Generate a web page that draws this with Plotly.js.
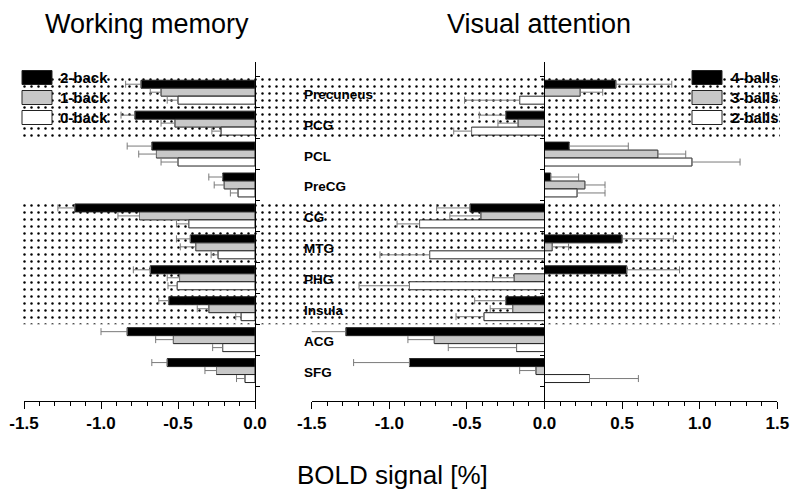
<!DOCTYPE html>
<html>
<head>
<meta charset="utf-8">
<script src="https://cdn.plot.ly/plotly-3.0.1.min.js"></script>
<style>html,body{margin:0;padding:0;background:#fff;}#chart{width:800px;height:499px;}</style>
</head>
<body>
<div id="chart"></div>
<script>
// ---------- data ----------
const categories = ['Precuneus','PCG','PCL','PreCG','CG','MTG','PHG','Insula','ACG','SFG'];
const shadedGroups = [['Precuneus','PCG'], ['CG','MTG','PHG','Insula']];

const wmSeries = ['2-back','1-back','0-back'];
const wm2back    = [-0.74,-0.78,-0.67,-0.21,-1.17,-0.42,-0.68,-0.56,-0.83,-0.57];
const wm2backErr = [ 0.10, 0.09, 0.16, 0.09, 0.11, 0.09, 0.11, 0.065,0.17, 0.10];
const wm1back    = [-0.61,-0.52,-0.64,-0.20,-0.75,-0.385,-0.49,-0.30,-0.53,-0.25];
const wm1backErr = [ 0.07, 0.09, 0.115,0.065,0.14, 0.10, 0.08, 0.075,0.115,0.075];
const wm0back    = [-0.50,-0.22,-0.50,-0.11,-0.43,-0.24,-0.505,-0.09,-0.21,-0.065];
const wm0backErr = [ 0.07, 0.06, 0.11, 0.05, 0.08, 0.045,0.06, 0.035,0.065,0.055];

const vaSeries = ['4-balls','3-balls','2-balls'];
const va4balls    = [ 0.46,-0.25, 0.16, 0.04,-0.48, 0.50, 0.53,-0.25,-1.28,-0.87];
const va4ballsErr = [ 0.36, 0.17, 0.38, 0.18, 0.215,0.33, 0.34, 0.20, 0.23, 0.36];
const va3balls    = [ 0.23,-0.17, 0.73, 0.26,-0.41, 0.05,-0.195,-0.205,-0.71,-0.055];
const va3ballsErr = [ 0.145,0.13, 0.18, 0.13, 0.20, 0.105,0.14, 0.145,0.17, 0.105];
const va2balls    = [-0.16,-0.47, 0.95, 0.21,-0.805,-0.74,-0.87,-0.39,-0.18, 0.29];
const va2ballsErr = [ 0.355,0.115,0.31, 0.18, 0.145,0.32, 0.325,0.18, 0.44, 0.315];

const wmTickVals = [-1.5,-1.0,-0.5,0.0];
const wmTickText = ['-1.5','-1.0','-0.5','0.0'];
const vaTickVals = [-1.5,-1.0,-0.5,0.0,0.5,1.0,1.5];
const vaTickText = ['-1.5','-1.0','-0.5','0.0','0.5','1.0','1.5'];

const titleLeft = 'Working memory';
const titleRight = 'Visual attention';
const xTitle = 'BOLD signal [%]';

// ---------- styles / layout ----------
const W = 800, H = 499;
const px = v => v / W;
const py = v => 1 - v / H;
const seriesColors = ['#000000', '#c8c8c8', '#ffffff'];
const FONT = 'Liberation Sans, Arial, sans-serif';
const yIdx = categories.map((c, i) => i);
const yRange = [9.974, -0.976];
const yDomain = [py(400.7), py(62)];

function barTrace(name, vals, errs, color, xa, ya) {
  return {
    type: 'bar', orientation: 'h', name: name,
    x: vals, y: yIdx, xaxis: xa, yaxis: ya,
    marker: {color: color, line: {color: '#222', width: 1}},
    error_x: {
      type: 'data', symmetric: false,
      array: vals.map((v, i) => v > 0 ? errs[i] : 0),
      arrayminus: vals.map((v, i) => v < 0 ? errs[i] : 0),
      color: '#7a7a7a', thickness: 1, width: 3.5
    },
    hoverinfo: 'skip', showlegend: false
  };
}

// background dotted regions (on full-width axis x/y, drawn first)
const bgY = shadedGroups.map(g => (categories.indexOf(g[0]) + categories.indexOf(g[g.length - 1])) / 2);
const bgW = shadedGroups.map(g => g.length);
const bgTrace = {
  type: 'bar', orientation: 'h', xaxis: 'x', yaxis: 'y',
  y: bgY, width: bgW,
  x: shadedGroups.map(() => px(780) - px(20)),
  base: shadedGroups.map(() => px(20)),
  marker: {color: 'white', line: {width: 0},
    pattern: {shape: '.', fgcolor: 'black', bgcolor: 'white', size: 7, solidity: 0.1}},
  hoverinfo: 'skip', showlegend: false
};

const traces = [
  bgTrace,
  barTrace(wmSeries[0], wm2back, wm2backErr, seriesColors[0], 'x2', 'y2'),
  barTrace(wmSeries[1], wm1back, wm1backErr, seriesColors[1], 'x2', 'y2'),
  barTrace(wmSeries[2], wm0back, wm0backErr, seriesColors[2], 'x2', 'y2'),
  barTrace(vaSeries[0], va4balls, va4ballsErr, seriesColors[0], 'x3', 'y3'),
  barTrace(vaSeries[1], va3balls, va3ballsErr, seriesColors[1], 'x3', 'y3'),
  barTrace(vaSeries[2], va2balls, va2ballsErr, seriesColors[2], 'x3', 'y3')
];

const boundaryTicks = categories.map((c, i) => i - 0.5).concat([categories.length - 0.5]);
const tickFont = {family: FONT, size: 17, color: '#000', weight: 'bold'};

function xAxis(domain, range, tv, tt) {
  return {
    domain: domain, range: range, showgrid: false, zeroline: false,
    showline: true, linecolor: '#000', linewidth: 1,
    ticks: 'outside', ticklen: 7, tickwidth: 1, tickcolor: '#000',
    tickvals: tv, ticktext: tt, tickfont: tickFont,
    minor: {ticks: 'outside', dtick: 0.1, tick0: 0, ticklen: 4, tickwidth: 1, tickcolor: '#000', showgrid: false},
    fixedrange: true
  };
}
function yTickAxis(extra) {
  return Object.assign({
    domain: yDomain, range: yRange, showgrid: false, zeroline: false,
    tickvals: boundaryTicks, showticklabels: false,
    ticklen: 4, tickwidth: 1, tickcolor: '#000', fixedrange: true
  }, extra);
}

const shapes = [];
const annotations = [];

// legends
function addLegend(names, boxX, textX) {
  names.forEach((n, i) => {
    const top = 70.5 + i * 20;
    shapes.push({type: 'rect', xref: 'paper', yref: 'paper',
      x0: px(boxX), x1: px(boxX + 30), y0: py(top + 14), y1: py(top),
      fillcolor: seriesColors[i], line: {color: '#222', width: 1}});
    annotations.push({xref: 'paper', yref: 'paper', x: px(textX), y: py(top + 7),
      xanchor: 'left', yanchor: 'middle', text: n, showarrow: false,
      font: {family: FONT, size: 15, color: '#000', weight: 'bold'}});
  });
}
addLegend(wmSeries, 22, 58);
addLegend(vaSeries, 692, 729);

// category labels
categories.forEach((c, i) => {
  annotations.push({xref: 'paper', yref: 'y', x: px(302), y: i, xanchor: 'left', yanchor: 'middle',
    yshift: -2, text: c, showarrow: false,
    font: {family: FONT, size: 13.5, color: '#000', weight: 'bold'}});
});

// titles
const titleFont = {family: FONT, size: 27, color: '#000'};
annotations.push({xref: 'paper', yref: 'paper', x: px(146.5), y: py(24), xanchor: 'center', yanchor: 'middle',
  text: titleLeft, showarrow: false, font: titleFont});
annotations.push({xref: 'paper', yref: 'paper', x: px(538.5), y: py(24), xanchor: 'center', yanchor: 'middle',
  text: titleRight, showarrow: false, font: titleFont});
annotations.push({xref: 'paper', yref: 'paper', x: px(392.5), y: py(475), xanchor: 'center', yanchor: 'middle',
  text: xTitle, showarrow: false, font: {family: FONT, size: 26, color: '#000'}});

const layout = {
  width: W, height: H,
  margin: {l: 0, r: 0, t: 0, b: 0, pad: 0},
  paper_bgcolor: '#ffffff', plot_bgcolor: 'rgba(0,0,0,0)',
  showlegend: false,
  barmode: 'group', bargap: 0.226, bargroupgap: 0,
  xaxis: {domain: [0, 1], range: [0, 1], visible: false, fixedrange: true},
  yaxis: {domain: yDomain, range: yRange, visible: false, fixedrange: true},
  xaxis2: Object.assign(xAxis([px(24), px(255)], [-1.5, 0], wmTickVals, wmTickText), {anchor: 'y2'}),
  xaxis3: Object.assign(xAxis([px(311.7), px(777.3)], [-1.5, 1.5], vaTickVals, vaTickText), {anchor: 'y3'}),
  yaxis2: yTickAxis({anchor: 'x2', side: 'right', showline: true, linecolor: '#000', linewidth: 1, ticks: 'outside'}),
  yaxis4: yTickAxis({anchor: 'x2', side: 'right', overlaying: 'y2', showline: false, ticks: 'inside'}),
  yaxis3: yTickAxis({anchor: 'free', position: px(544.3), side: 'left', showline: true, linecolor: '#000', linewidth: 1, ticks: 'outside'}),
  yaxis5: yTickAxis({anchor: 'free', position: px(544.3), side: 'left', overlaying: 'y3', showline: false, ticks: 'inside'}),
  shapes: shapes,
  annotations: annotations
};

Plotly.newPlot('chart', traces, layout, {staticPlot: true, displayModeBar: false});
</script>
</body>
</html>
